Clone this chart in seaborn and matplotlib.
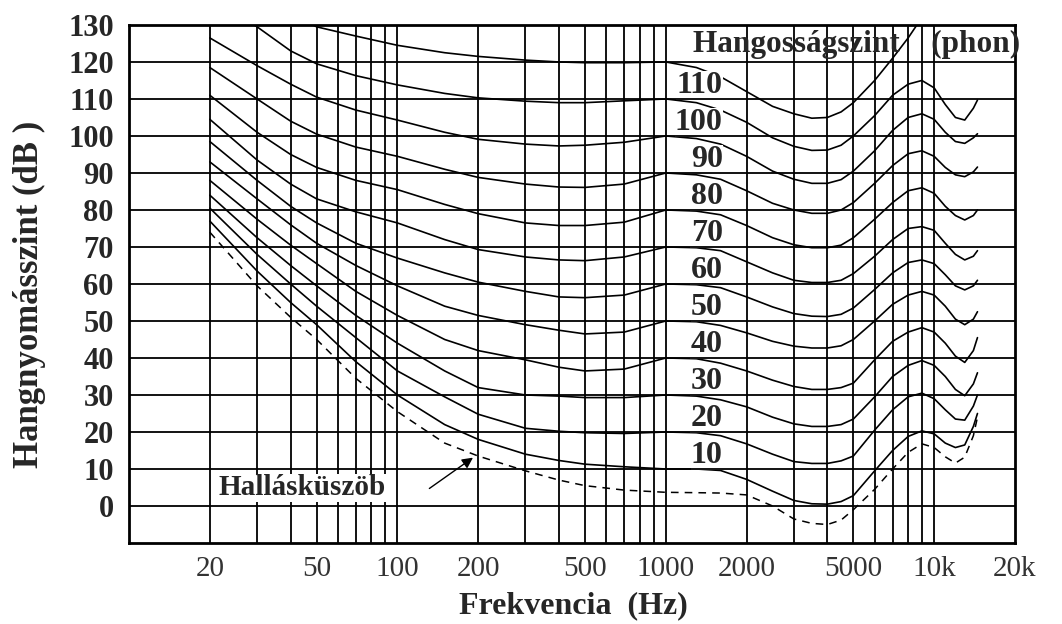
import matplotlib
matplotlib.use("Agg")
import matplotlib.pyplot as plt
import seaborn as sns
from matplotlib.ticker import NullLocator

# frekvencia pontok (Hz)
freqs = [20, 30, 40, 50, 70, 100, 150, 200, 300, 400, 500, 700,
         1000, 1300, 1600, 2000, 2500, 3000, 3500, 4000, 4500, 5000,
         6000, 7000, 8000, 9000, 10000, 11000, 12000, 13000, 14000, 14500]

# hallásküszöb (szaggatott)
threshold = [74, 59.5, 51, 45, 34.5, 25.5, 17, 13.5, 9.5, 7, 5.5, 4.3,
             3.7, 3.6, 3.5, 3.0, 0, -3.5, -4.7, -5, -3.8, -1,
             4.5, 10, 14.5, 16.8, 15.8, 13.3, 11.6, 13.2, 19, 24]

phon_10 = [77, 63.5, 55, 49, 39, 30, 22, 18, 14, 12.3, 11.3, 10.6,
           10, 10, 9.6, 7.2, 4, 1.5, 0.6, 0.5, 1.2, 2.8,
           9.5, 15, 18.8, 20.3, 19.5, 17, 15.8, 16.5, 21.5, 25]
phon_20 = [80.5, 68, 60, 54, 45.5, 36.5, 29.5, 24.8, 21, 20.2, 19.8, 19.6,
           20, 19.8, 19, 16.8, 14, 12, 11.5, 11.5, 12.2, 13.5,
           20.5, 26, 29.5, 30.5, 29, 26, 23.5, 23.2, 27, 30]
phon_30 = [84, 72.5, 65, 59.5, 51.5, 44, 36.5, 32, 30, 29.7, 29.3, 29.3,
           30, 29.7, 28.7, 26.8, 24, 22.2, 21.5, 21.5, 22, 23.5,
           29.5, 35, 38, 39.3, 38, 35, 31.5, 29.8, 33, 36]
phon_40 = [88, 77.5, 70.5, 65.5, 58, 51.5, 45, 42, 39.5, 37.5, 36.5, 37,
           40, 39.8, 38.6, 36.5, 34, 32.3, 31.5, 31.5, 32, 33.2,
           39.5, 44.5, 47, 48.2, 47, 44, 40.5, 38.8, 42, 45.5]
phon_50 = [93, 83, 76, 71, 65, 59.5, 54, 51.5, 49, 47.5, 46.5, 47,
           50, 49.8, 48.8, 46.8, 44.5, 43.2, 42.7, 42.7, 43.3, 45,
           50, 54.5, 57, 58, 57, 54, 50.5, 49, 50.5, 52.5]
phon_60 = [98.5, 88, 81, 76.5, 71, 67, 63, 60.5, 58, 56.5, 56.3, 57,
           60, 59.8, 59, 56.5, 53.8, 52, 51.3, 51.2, 51.8, 53.5,
           58.5, 63, 65.8, 66.5, 65.5, 62.5, 59.5, 58.4, 59.5, 61]
phon_70 = [104.5, 93.5, 87, 83, 79.5, 76.5, 72, 69.3, 67.3, 66.5, 66.3, 67.3,
           70, 69.8, 69, 66, 63, 61, 60.4, 60.4, 61, 62.8,
           67.5, 72, 75, 75.5, 74.5, 71, 68, 66.5, 67.5, 69]
phon_80 = [111, 101, 95, 91.5, 88, 85.5, 81.5, 79, 76.5, 75.8, 75.8, 76.7,
           80, 79.7, 78.7, 75.8, 72.5, 70.6, 69.8, 69.8, 70.5, 72.5,
           77.5, 82, 85.2, 86, 84.5, 81, 78.5, 77.3, 78.5, 80]
phon_90 = [118.5, 110, 104, 100.5, 97, 94.5, 91, 88.8, 87, 86.2, 86.1, 87,
           90, 89.5, 88.3, 85.2, 81.8, 80, 79.1, 79.1, 80, 82,
           87.2, 92, 95.2, 96, 94.5, 91.5, 89.5, 89, 90.3, 91.6]
phon_100 = [126.5, 119, 114, 110.5, 107, 104.3, 101, 99.1, 97.8, 97.3, 97.5, 98.3,
            100, 99.3, 97.8, 94.5, 90.5, 88.3, 87.2, 87.2, 88.2, 90.5,
            96, 101.5, 105, 106, 104.5, 101, 98.5, 98, 99.5, 100.6]
phon_110 = [137, 129.5, 123, 119.5, 116.3, 113.8, 111.5, 110.3, 109.4, 109, 109, 109.5,
            110, 109, 107, 103.7, 99.5, 97.2, 96.1, 96.2, 97.5, 100,
            105.5, 111, 114, 115, 113, 108.5, 105, 104.3, 107.5, 109.7]

# a 120 phon görbe csak 40 Hz és 9 kHz között látszik
freqs_120 = [40, 50, 70, 100, 150, 200, 300, 400, 500, 700,
             1000, 1300, 1600, 2000, 2500, 3000, 3500, 4000, 4500, 5000,
             6000, 7000, 8000, 9000]
phon_120 = [133, 129.5, 127, 124.5, 122.5, 121.5, 120.5, 120, 119.8, 119.8,
            120, 118.5, 116, 112, 108, 106, 104.8, 105, 106.5, 109,
            115, 121, 126.5, 132]

curves = [phon_10, phon_20, phon_30, phon_40, phon_50, phon_60,
          phon_70, phon_80, phon_90, phon_100, phon_110]
phon_levels = [10, 20, 30, 40, 50, 60, 70, 80, 90, 100, 110]

grid_freqs = [20, 30, 40, 50, 60, 70, 80, 90, 100,
              200, 300, 400, 500, 600, 700, 800, 900, 1000,
              2000, 3000, 4000, 5000, 6000, 7000, 8000, 9000, 10000]
tick_freqs = [20, 50, 100, 200, 500, 1000, 2000, 5000, 10000, 20000]
tick_labels = ["20", "50", "100", "200", "500", "1000", "2000", "5000", "10k", "20k"]
db_ticks = list(range(0, 131, 10))

sns.set_theme(style="white")
plt.rcParams["font.family"] = ["Liberation Serif", "DejaVu Serif"]

fig, ax = plt.subplots(figsize=(10.62, 6.24), dpi=100)
fig.subplots_adjust(left=0.1215, right=0.9557, top=0.96, bottom=0.1298)

# görbék
for vals in curves:
    sns.lineplot(x=freqs, y=vals, ax=ax, color="black", linewidth=1.2,
                 errorbar=None, zorder=2)
sns.lineplot(x=freqs_120, y=phon_120, ax=ax, color="black", linewidth=1.2,
             errorbar=None, zorder=2)
sns.lineplot(x=freqs, y=threshold, ax=ax, color="black", linewidth=1.1,
             linestyle=(0, (5, 4)), errorbar=None, zorder=2)

ax.set_xscale("log")
ax.set_xlim(10, 20000)
ax.set_ylim(-10, 130)

# rács
for f in grid_freqs:
    ax.axvline(f, color="black", lw=1.3, zorder=4)
for d in range(0, 130, 10):
    ax.axhline(d, color="black", lw=1.3, zorder=4)

for s in ax.spines.values():
    s.set_color("black")
    s.set_linewidth(2)
    s.set_zorder(5)

# tengelyfeliratok
ax.xaxis.set_minor_locator(NullLocator())
ax.set_xticks(tick_freqs)
ax.set_xticklabels(tick_labels, fontsize=21, color="#333333")
ax.set_yticks(db_ticks)
ax.set_yticklabels([str(d) for d in db_ticks], fontsize=22, fontweight="bold")
ax.tick_params(axis="x", length=0, pad=9)
ax.tick_params(axis="y", length=0, pad=11)

ax.set_xlabel("Frekvencia  (Hz)", fontsize=23, fontweight="bold")
ax.xaxis.set_label_coords(0.502, -0.093)
ax.xaxis.label.set_va("top")
ax.set_ylabel("Hangnyomásszint (dB )", fontsize=25, fontweight="bold")
ax.yaxis.set_label_coords(-0.094, 0.48)

# phon címkék a görbéken
for lvl in phon_levels:
    ax.text(1630, lvl + 3.6, str(lvl), ha="right", va="center", fontsize=23,
            fontweight="bold", zorder=3,
            bbox=dict(facecolor="white", edgecolor="none", pad=0.3))

ax.text(1262, 124.6, "Hangosságszint    (phon)", ha="left", va="center",
        fontsize=22.5, fontweight="bold", zorder=6)

ax.text(44, 4.9, "Hallásküszöb", ha="center", va="center", fontsize=21,
        fontweight="bold", zorder=6,
        bbox=dict(facecolor="white", edgecolor="none", pad=0.2))
ax.annotate("", xy=(195, 13.5), xytext=(129, 4.3),
            arrowprops=dict(arrowstyle="-|>", color="black", lw=1,
                            mutation_scale=16),
            zorder=6)

fig.savefig("out.png", dpi=100)
